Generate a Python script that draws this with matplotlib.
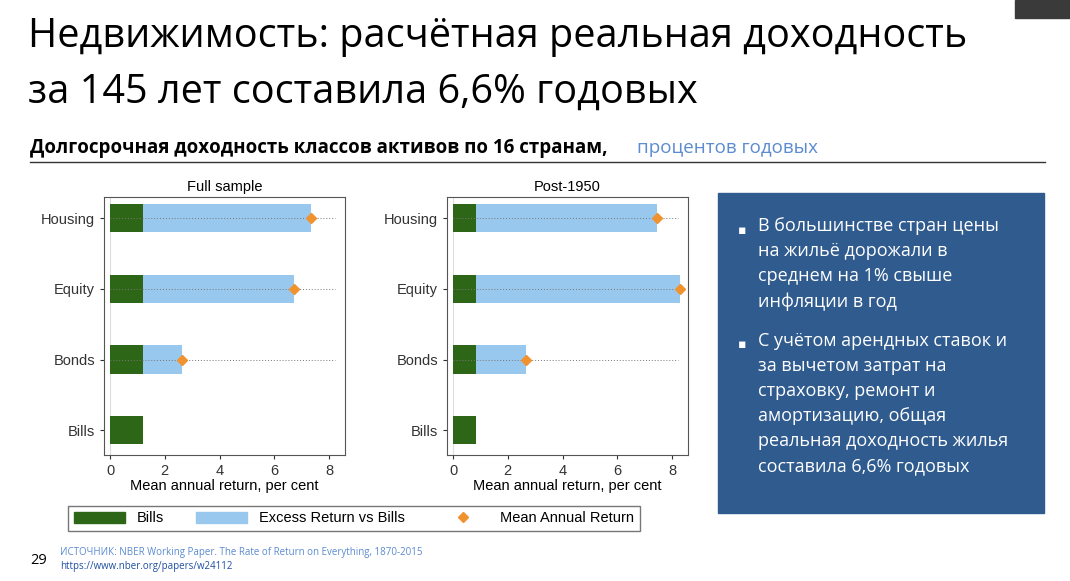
import matplotlib
matplotlib.use("Agg")
import matplotlib.pyplot as plt
from matplotlib.patches import Rectangle, Patch
from matplotlib.lines import Line2D

categories = ["Bills", "Bonds", "Equity", "Housing"]
full_bills = [1.22, 1.22, 1.22, 1.22]
full_total = [1.22, 2.63, 6.72, 7.34]
post_bills = [0.83, 0.83, 0.83, 0.83]
post_total = [0.83, 2.68, 8.30, 7.46]
panel_titles = ["Full sample", "Post-1950"]
xticks = [0, 2, 4, 6, 8]
bullets = ["В большинстве стран цены\nна жильё дорожали в\nсреднем на 1% свыше\nинфляции в год",
           "С учётом арендных ставок и\nза вычетом затрат на\nстраховку, ремонт и\nамортизацию, общая\nреальная доходность жилья\nсоставила 6,6% годовых"]

W, H = 1070, 581
fig = plt.figure(figsize=(W/100, H/100), dpi=100)
fig.patch.set_facecolor("white")
FONT = "Open Sans"

def fx(px): return px / W
def fy(py): return 1 - py / H

fig.text(fx(28), fy(37), "Недвижимость: расчётная реальная доходность", fontsize=28.5, family=FONT, va="center")
fig.text(fx(28), fy(92), "за 145 лет составила 6,6% годовых", fontsize=28.5, family=FONT, va="center")
fig.text(fx(30), fy(148), "Долгосрочная доходность классов активов по 16 странам,", fontsize=13.5, family=FONT,
         weight="bold", va="center")
fig.text(fx(637), fy(148), "процентов годовых", fontsize=13.5, family=FONT, color="#5B8BD0", va="center")
fig.add_artist(Line2D([fx(30), fx(1045)], [fy(162), fy(162)], color="#333333", lw=1))
fig.add_artist(Rectangle((fx(1015), fy(18)), fx(55), 18/H, color="#3a3a3a"))

GREEN = "#2D6616"
BLUE = "#99C8EE"
ORANGE = "#F0922E"
for i, (bills, total, title, left) in enumerate([(full_bills, full_total, panel_titles[0], 104),
                                                 (post_bills, post_total, panel_titles[1], 447)]):
    ax = fig.add_axes([fx(left), fy(455), fx(241), (455-197)/H])
    y = range(len(categories))
    ax.barh(y, bills, height=0.4, color=GREEN, zorder=2)
    ax.barh(y, [t - b for t, b in zip(total, bills)], left=bills, height=0.4, color=BLUE, zorder=2)
    for yy, t in zip(y[1:], total[1:]):
        ax.plot([0, 8.2], [yy, yy], ls=(0, (1, 2)), color="#777777", lw=0.7, zorder=3)
        ax.plot([t], [yy], marker="D", ms=5, color=ORANGE, zorder=4, clip_on=False)
    ax.set_xlim(-0.22, 8.58)
    ax.set_ylim(-0.35, 3.3)
    ax.set_yticks(list(y))
    ax.set_yticklabels(categories, fontsize=10.5, family="Liberation Sans")
    ax.set_xticks(xticks)
    ax.set_xticklabels([str(t) for t in xticks], fontsize=10.5, family="Liberation Sans")
    ax.set_xlabel("Mean annual return, per cent", fontsize=10.5, family="Liberation Sans", labelpad=1)
    ax.set_title(title, fontsize=10.5, family="Liberation Sans", pad=4)
    ax.axvline(0, color="#dddddd", lw=0.8, zorder=1)
    for s in ax.spines.values():
        s.set_color("#555555")
    ax.tick_params(colors="#333333", length=3)

lax = fig.add_axes([fx(68), fy(532), fx(572), 27/H])
lax.set_axis_off()
handles = [Patch(color=GREEN, label="Bills"), Patch(color=BLUE, label="Excess Return vs Bills"),
           Line2D([], [], marker="D", ls="", color=ORANGE, ms=5, label="Mean Annual Return")]
lax.legend(handles=handles, loc="center", ncol=3, frameon=True, fancybox=False, edgecolor="#555555",
           prop={"family": "Liberation Sans", "size": 10.5}, columnspacing=5, handlelength=3.5,
           mode="expand", bbox_to_anchor=(0, 0, 1, 1), borderaxespad=0)

fig.add_artist(Rectangle((fx(718), fy(513)), fx(326), (513-193)/H, color="#2F5B8E"))
ypos = [230, 345]
for yp, b in zip(ypos, bullets):
    fig.text(fx(738), fy(yp), "▪", color="white", fontsize=9, va="center", family="DejaVu Sans")
    fig.text(fx(758), fy(yp - 13), b, color="white", fontsize=13, va="top", family=FONT, linespacing=1.5)

fig.text(fx(30), fy(560), "29", fontsize=10.5, family=FONT, va="center")
fig.text(fx(60), fy(552), "ИСТОЧНИК: NBER Working Paper. The Rate of Return on Everything, 1870-2015",
         fontsize=7, family=FONT, color="#5B8BD0", va="center")
fig.text(fx(60), fy(566), "https://www.nber.org/papers/w24112", fontsize=7, family=FONT,
         color="#1F4FA0", va="center")

fig.savefig("out.png", dpi=100)
